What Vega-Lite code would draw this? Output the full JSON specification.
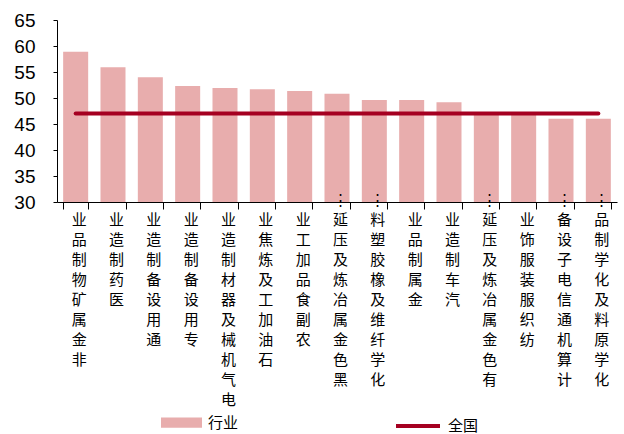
{
  "$schema": "https://vega.github.io/schema/vega-lite/v6.json",
  "autosize": "none",
  "width": 560,
  "height": 182,
  "padding": {"left": 57, "top": 20, "right": 7, "bottom": 232},
  "background": "white",
  "config": {
    "view": {"stroke": null},
    "axisY": {
      "title": null,
      "zindex": 1,
      "values": [30, 35, 40, 45, 50, 55, 60, 65],
      "grid": false,
      "labelOverlap": false,
      "labelFont": "Liberation Sans Narrow, Liberation Sans",
      "labelFontSize": 19,
      "labelColor": "black",
      "labelPadding": 18,
      "tickSize": 4,
      "tickColor": "black",
      "domainColor": "black"
    }
  },
  "data": {"values": [
    {"industry": "非金属矿物制品业", "value": 58.9, "national": 47},
    {"industry": "医药制造业", "value": 55.9, "national": 47},
    {"industry": "通用设备制造业", "value": 54.0, "national": 47},
    {"industry": "专用设备制造业", "value": 52.3, "national": 47},
    {"industry": "电气机械及器材制造业", "value": 51.9, "national": 47},
    {"industry": "石油加工及炼焦业", "value": 51.7, "national": 47},
    {"industry": "农副食品加工业", "value": 51.35, "national": 47},
    {"industry": "黑色金属冶炼及压延…", "value": 50.8, "national": 47},
    {"industry": "化学纤维及橡胶塑料…", "value": 49.6, "national": 47},
    {"industry": "金属制品业", "value": 49.6, "national": 47},
    {"industry": "汽车制造业", "value": 49.2, "national": 47},
    {"industry": "有色金属冶炼及压延…", "value": 47.1, "national": 47},
    {"industry": "纺织服装服饰业", "value": 46.9, "national": 47},
    {"industry": "计算机通信电子设备…", "value": 46.0, "national": 47},
    {"industry": "化学原料及化学制品…", "value": 46.0, "national": 47}
  ]},
  "encoding": {
    "x": {
      "field": "industry", "type": "nominal", "sort": null,
      "scale": {"paddingInner": 0.33, "paddingOuter": 0.165},
      "axis": {
        "title": null,
        "zindex": 1,
        "labelAngle": 0,
        "labelExpr": "reverse(split(replace(datum.label, '…', '⋮'), ''))",
        "labelFont": "Noto Sans CJK SC",
        "labelFontSize": 15,
        "labelLineHeight": 20,
        "labelColor": "black",
        "labelAlign": "center",
        "labelBaseline": "top",
        "labelOffset": 3,
        "labelPadding": {"condition": {"test": "indexof(datum.label, '…') >= 0", "value": -17}, "value": 3},
        "labelLimit": 0,
        "labelOverlap": false,
        "labelBound": false,
        "tickBand": "extent",
        "tickSize": 7,
        "tickColor": "black",
        "domainColor": "black",
        "grid": false
      }
    }
  },
  "layer": [
    {
      "mark": {"type": "bar"},
      "encoding": {
        "y": {
          "field": "value", "type": "quantitative",
          "scale": {"domain": [30, 65], "nice": false, "zero": false}
        },
        "y2": {"datum": 30},
        "fill": {
          "datum": "行业",
          "scale": {"range": ["#E8ADAD"]},
          "legend": {
            "title": null,
            "orient": "none",
            "legendX": 104,
            "legendY": 382,
            "symbolType": "M-1,-0.25H1V0.25H-1Z",
            "symbolSize": 1681,
            "symbolStrokeWidth": 0,
            "labelFont": "Noto Sans CJK SC",
            "labelFontSize": 15,
            "labelColor": "black",
            "labelOffset": 6,
            "padding": 0
          }
        }
      }
    },
    {
      "mark": {"type": "line", "strokeWidth": 4, "strokeCap": "round"},
      "encoding": {
        "y": {"field": "national", "type": "quantitative"},
        "stroke": {
          "datum": "全国",
          "scale": {"range": ["#A50021"]},
          "legend": {
            "title": null,
            "orient": "none",
            "legendX": 337,
            "legendY": 382,
            "symbolType": "stroke",
            "symbolSize": 1936,
            "symbolStrokeWidth": 4,
            "labelFont": "Noto Sans CJK SC",
            "labelFontSize": 15,
            "labelColor": "black",
            "labelOffset": 6,
            "padding": 0
          }
        }
      }
    }
  ]
}
